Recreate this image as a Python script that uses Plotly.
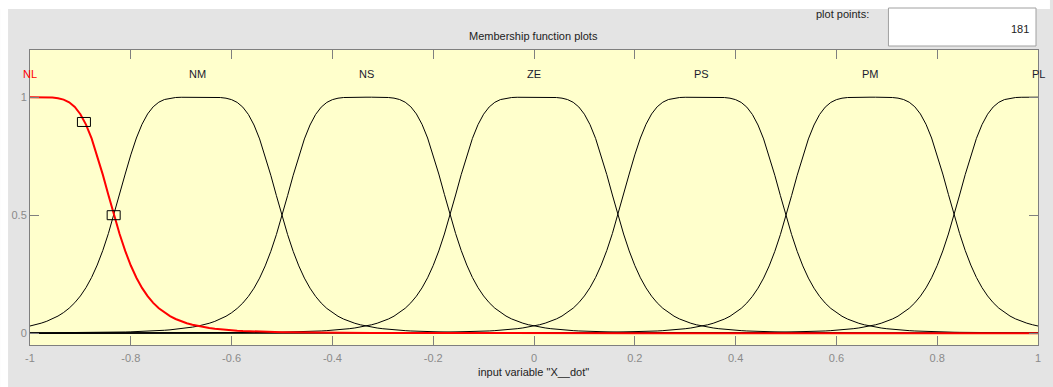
import numpy as np
import plotly.graph_objects as go

# Membership functions of the input variable (generalized bell: width a, slope b, centre c)
mf_names = ["NL", "NM", "NS", "ZE", "PS", "PM", "PL"]
mf_centers = [-1.0, -0.667, -0.333, 0.0, 0.333, 0.667, 1.0]
mf_widths = [0.1667, 0.1667, 0.1667, 0.1667, 0.1667, 0.1667, 0.1667]
mf_slopes = [2.5, 2.5, 2.5, 2.5, 2.5, 2.5, 2.5]
selected_mf = "NL"

# Edit handles shown on the selected function
handle_x = [-0.893, -0.834]
handle_y = [0.895, 0.5]

x_range = [-1.0, 1.0]
plot_points = 181
x_ticks = [-1, -0.8, -0.6, -0.4, -0.2, 0, 0.2, 0.4, 0.6, 0.8, 1]
x_tick_text = ["-1", "-0.8", "-0.6", "-0.4", "-0.2", "0", "0.2", "0.4", "0.6", "0.8", "1"]
y_ticks = [0, 0.5, 1]
y_tick_text = ["0", "0.5", "1"]

W, H = 1053, 387
ML, MR, MT, MB = 30, 12, 50, 42
PW, PH = W - ML - MR, H - MT - MB

FONT = "Liberation Sans, Arial, sans-serif"
GRAY_BG = "#e4e4e4"
AXIS_GRAY = "#7f7f7f"


def px_x(px):
    return (px - ML) / PW


def px_y(py):
    return (H - MB - py) / PH


def gbell(x, a, b, c):
    return 1.0 / (1.0 + np.abs((x - c) / a) ** (2 * b))


xs = np.linspace(x_range[0], x_range[1], plot_points)

fig = go.Figure()

order = [n for n in mf_names if n != selected_mf] + [selected_mf]
for name in order:
    i = mf_names.index(name)
    ys = gbell(xs, mf_widths[i], mf_slopes[i], mf_centers[i])
    sel = name == selected_mf
    fig.add_trace(go.Scatter(
        x=xs, y=ys, mode="lines", name=name,
        line=dict(color="#ff0000" if sel else "#000000", width=2 if sel else 1),
        hoverinfo="skip", showlegend=False,
    ))

shapes = []
# figure chrome: white strips around the grey panel, and the plot-points box
shapes.append(dict(type="rect", xref="paper", yref="paper", layer="below",
                   x0=px_x(0), x1=px_x(W), y0=px_y(9), y1=px_y(0),
                   fillcolor="#ffffff", line=dict(width=0)))
shapes.append(dict(type="rect", xref="paper", yref="paper", layer="below",
                   x0=px_x(0), x1=px_x(8), y0=px_y(H), y1=px_y(0),
                   fillcolor="#ffffff", line=dict(width=0)))
shapes.append(dict(type="rect", xref="paper", yref="paper", layer="below",
                   x0=px_x(891), x1=px_x(1039), y0=px_y(46), y1=px_y(8),
                   fillcolor="#ffffff", line=dict(width=1, color="#a0a0a0")))

# rectangular edit handles on the selected function
for hx, hy in zip(handle_x, handle_y):
    shapes.append(dict(type="rect", xref="x", yref="y",
                       xsizemode="pixel", ysizemode="pixel",
                       xanchor=hx, yanchor=hy,
                       x0=-6.5, x1=6.5, y0=-4.5, y1=4.5,
                       line=dict(color="#000000", width=1),
                       fillcolor="rgba(0,0,0,0)"))

annotations = []
for i, name in enumerate(mf_names):
    annotations.append(dict(
        x=mf_centers[i], y=1.1, xref="x", yref="y", text=name,
        showarrow=False, xanchor="center", yanchor="middle",
        font=dict(family=FONT, size=11,
                  color="#ff0000" if name == selected_mf else "#1a1a2e"),
    ))

annotations.append(dict(x=px_x(535), y=px_y(36), xref="paper", yref="paper",
                        text="Membership function plots", showarrow=False,
                        xanchor="center", yanchor="middle",
                        font=dict(family=FONT, size=11, color="#222222")))
annotations.append(dict(x=px_x(535), y=px_y(372), xref="paper", yref="paper",
                        text='input variable "X__dot"', showarrow=False,
                        xanchor="center", yanchor="middle",
                        font=dict(family=FONT, size=11, color="#222222")))
annotations.append(dict(x=px_x(874), y=px_y(14), xref="paper", yref="paper",
                        text="plot points:", showarrow=False,
                        xanchor="right", yanchor="middle",
                        font=dict(family=FONT, size=11, color="#222222")))
annotations.append(dict(x=px_x(1034), y=px_y(29), xref="paper", yref="paper",
                        text=str(plot_points), showarrow=False,
                        xanchor="right", yanchor="middle",
                        font=dict(family=FONT, size=11, color="#222222")))

axis_common = dict(
    showgrid=False, zeroline=False, showline=True, linecolor=AXIS_GRAY,
    linewidth=1, mirror="ticks", ticks="inside", ticklen=9, tickwidth=1,
    tickcolor=AXIS_GRAY, tickfont=dict(family=FONT, size=11, color="#8a8a8a"),
)

fig.update_layout(
    width=W, height=H,
    margin=dict(l=ML, r=MR, t=MT, b=MB, pad=0),
    paper_bgcolor=GRAY_BG, plot_bgcolor="#ffffcc",
    xaxis=dict(range=x_range, tickvals=x_ticks, ticktext=x_tick_text,
               ticklabelstandoff=3, **axis_common),
    yaxis=dict(range=[-0.05, 1.2], tickvals=y_ticks, ticktext=y_tick_text, **axis_common),
    shapes=shapes, annotations=annotations,
    showlegend=False,
)

fig.write_html("out.html")
